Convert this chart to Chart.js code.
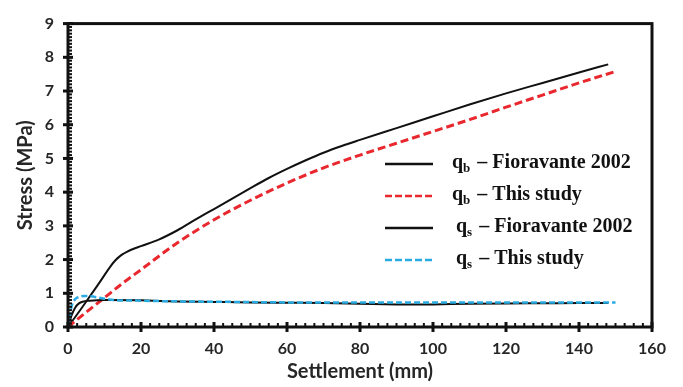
<!DOCTYPE html>
<html lang="en">
<head>
<meta charset="UTF-8">
<title>Stress vs Settlement</title>
<script src="https://cdn.jsdelivr.net/npm/chart.js"></script>
<style>
    html, body { margin: 0; padding: 0; background: #fff; }
</style>
</head>
<body>
<canvas id="grafico" width="683" height="387"></canvas>
<script>
// q_b - Fioravante 2002
const qbFioX = [0, 4, 8, 12, 13, 14, 15, 16, 18, 20, 25, 30, 35, 40, 45, 50, 55, 60, 65, 70, 75, 80, 90, 100, 110, 120, 130, 140, 148];
const qbFioY = [0, 0.6, 1.22, 1.85, 1.98, 2.08, 2.16, 2.22, 2.32, 2.4, 2.6, 2.87, 3.19, 3.5, 3.81, 4.12, 4.42, 4.69, 4.94, 5.17, 5.37, 5.55, 5.9, 6.25, 6.6, 6.93, 7.24, 7.55, 7.79];
// q_b - this study
const qbStudyX = [0, 5, 10, 15, 20, 30, 40, 50, 60, 70, 80, 90, 100, 110, 120, 130, 140, 150];
const qbStudyY = [0, 0.44, 0.87, 1.3, 1.7, 2.5, 3.18, 3.76, 4.27, 4.72, 5.1, 5.45, 5.8, 6.15, 6.52, 6.88, 7.24, 7.58];
// q_s - Fioravante 2002
const qsFioX = [0, 1, 2, 3, 4, 6, 10, 20, 30, 40, 50, 60, 70, 80, 90, 95, 100, 110, 120, 130, 140, 148];
const qsFioY = [0, 0.35, 0.58, 0.7, 0.75, 0.78, 0.8, 0.79, 0.76, 0.745, 0.73, 0.72, 0.71, 0.69, 0.67, 0.665, 0.67, 0.69, 0.7, 0.705, 0.71, 0.715];
// q_s - this study
const qsStudyX = [0, 0.5, 1, 2, 3, 4.5, 6, 8, 10, 13, 20, 30, 40, 50, 60, 80, 100, 120, 140, 150];
const qsStudyY = [0, 0.3, 0.62, 0.83, 0.89, 0.92, 0.91, 0.88, 0.84, 0.8, 0.78, 0.76, 0.75, 0.74, 0.73, 0.73, 0.73, 0.73, 0.73, 0.73];

const seriesSub = ['b', 'b', 's', 's'];
const seriesSource = ['Fioravante 2002', 'This study', 'Fioravante 2002', 'This study'];

const xTitle = 'Settlement (mm)';
const yTitle = 'Stress (MPa)';

function pts(xs, ys) {
    return xs.map((x, i) => ({ x: x, y: ys[i] }));
}

const RED = '#e8282e';
const BLUE = '#29aae1';
const BLACK = '#111111';

// frame, major ticks crossing the axis, minor ticks inside
const axisFrame = {
    id: 'axisFrame',
    afterDatasetsDraw(chart) {
        const ctx = chart.ctx;
        const a = chart.chartArea;
        const xs = chart.scales.x, ys = chart.scales.y;
        ctx.save();
        ctx.strokeStyle = BLACK;
        ctx.lineWidth = 2;
        for (let v = 0; v <= 160; v += 2.5) {
            const px = xs.getPixelForValue(v);
            ctx.beginPath(); ctx.moveTo(px, a.bottom); ctx.lineTo(px, a.bottom - 4); ctx.stroke();
        }
        for (let i = 0; i <= 90; i++) {
            const py = ys.getPixelForValue(i / 10);
            ctx.beginPath(); ctx.moveTo(a.left, py); ctx.lineTo(a.left + 4, py); ctx.stroke();
        }
        ctx.lineWidth = 3;
        xs.ticks.forEach(t => {
            const px = xs.getPixelForValue(t.value);
            ctx.beginPath(); ctx.moveTo(px, a.bottom - 5); ctx.lineTo(px, a.bottom + 5); ctx.stroke();
        });
        ys.ticks.forEach(t => {
            const py = ys.getPixelForValue(t.value);
            ctx.beginPath(); ctx.moveTo(a.left - 5, py); ctx.lineTo(a.left + 5, py); ctx.stroke();
        });
        ctx.strokeRect(a.left, a.top, a.right - a.left, a.bottom - a.top);
        ctx.restore();
    }
};

// legend with subscripts
const subLegend = {
    id: 'subLegend',
    afterDraw(chart) {
        const ctx = chart.ctx;
        const x0 = 385, x1 = 433, tx = 452;
        ctx.save();
        chart.data.datasets.forEach((ds, i) => {
            const y = 164 + i * 32;
            ctx.strokeStyle = ds.borderColor;
            ctx.lineWidth = 2.7;
            ctx.setLineDash(ds.borderDash ? [7, 3] : []);
            ctx.beginPath(); ctx.moveTo(x0, y); ctx.lineTo(x1, y); ctx.stroke();
            ctx.setLineDash([]);
            ctx.fillStyle = BLACK;
            ctx.textBaseline = 'alphabetic';
            ctx.font = 'bold 20px "Liberation Serif"';
            let x = tx + (i > 1 ? 4 : 0);
            ctx.fillText('q', x, y + 4);
            x += ctx.measureText('q').width;
            ctx.font = 'bold 13px "Liberation Serif"';
            ctx.fillText(seriesSub[i], x, y + 8);
            x += ctx.measureText(seriesSub[i]).width;
            ctx.font = 'bold 20px "Liberation Serif"';
            ctx.fillText(' \u2013 ' + seriesSource[i], x + 2, y + 4);
        });
        ctx.restore();
    }
};

const tickFont = { family: 'Lato', weight: 'bold', size: 16 };
const titleFont = { family: 'Lato', weight: 'bold', size: 20 };

new Chart(document.getElementById('grafico'), {
    type: 'line',
    data: {
        datasets: [
            { label: 'qb \u2013 ' + seriesSource[0], data: pts(qbFioX, qbFioY), borderColor: BLACK, borderWidth: 2, order: 3 },
            { label: 'qb \u2013 ' + seriesSource[1], data: pts(qbStudyX, qbStudyY), borderColor: RED, borderWidth: 3, borderDash: [8, 4], order: 2 },
            { label: 'qs \u2013 ' + seriesSource[2], data: pts(qsFioX, qsFioY), borderColor: BLACK, borderWidth: 2, order: 1 },
            { label: 'qs \u2013 ' + seriesSource[3], data: pts(qsStudyX, qsStudyY), borderColor: BLUE, borderWidth: 2.5, borderDash: [6, 3], order: 0 }
        ]
    },
    options: {
        responsive: false,
        animation: false,
        layout: { padding: { left: 0, top: 14, right: 31, bottom: 0 } },
        elements: {
            point: { radius: 0 },
            line: { cubicInterpolationMode: 'monotone', fill: false }
        },
        plugins: {
            legend: { display: false },
            tooltip: { enabled: false }
        },
        scales: {
            x: {
                type: 'linear',
                min: 0, max: 160,
                grid: { display: false, drawTicks: false },
                border: { display: false },
                ticks: { stepSize: 20, padding: 12, color: '#262626', font: tickFont, maxRotation: 0 },
                title: { display: true, text: xTitle, color: '#262626', font: titleFont, padding: { top: 0, bottom: 3 } },
                afterFit(s) { s.height = 60; }
            },
            y: {
                min: 0, max: 9,
                grid: { display: false, drawTicks: false },
                border: { display: false },
                ticks: { stepSize: 1, padding: 14, color: '#262626', font: tickFont },
                title: { display: true, text: yTitle, color: '#262626', font: titleFont, padding: { top: 14, bottom: 0 } },
                afterFit(s) { s.width = 68; }
            }
        }
    },
    plugins: [axisFrame, subLegend]
});
</script>
</body>
</html>
